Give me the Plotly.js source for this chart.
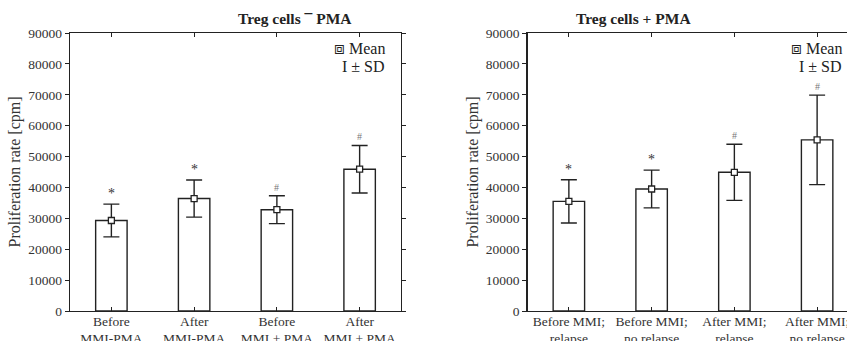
<!DOCTYPE html>
<html>
<head>
<meta charset="utf-8">
<script src="https://cdn.plot.ly/plotly-3.0.1.min.js"></script>
<style>
html,body{margin:0;padding:0;overflow:hidden;background:#fff;width:847px;height:341px;}
#chart{width:870px;height:341px;}
</style>
</head>
<body>
<div id="chart"></div>
<script>
// Panel A: Treg cells − PMA
const catsA = ["Before<br>MMI-PMA", "After<br>MMI-PMA", "Before<br>MMI + PMA", "After<br>MMI + PMA"];
const meanA = [29300, 36400, 32800, 45900];
const sdA   = [5300, 6000, 4500, 7700];
const markA = ["*", "*", "#", "#"];

// Panel B: Treg cells + PMA
const catsB = ["Before MMI;<br>relapse", "Before MMI;<br>no relapse", "After MMI;<br>relapse", "After MMI;<br>no relapse"];
const meanB = [35500, 39500, 44900, 55400];
const sdB   = [7000, 6100, 9100, 14500];
const markB = ["*", "*", "#", "#"];

const W = 870;
const PT = 33, PB = 311, PH = PB - PT;
const serif = "Liberation Serif, Times New Roman, serif";
const ink = "#222";

function panel(cats, mean, sd, xa, ya) {
  const x = cats.map((c, i) => i);
  return [
    {type: "bar", x: x, y: mean, xaxis: xa, yaxis: ya, width: 0.38,
     marker: {color: "#fff", line: {color: ink, width: 1.4}}, hoverinfo: "skip"},
    {type: "scatter", mode: "markers", x: x, y: mean, xaxis: xa, yaxis: ya,
     marker: {symbol: "square", size: 6, color: "#fff", line: {color: ink, width: 1.3}},
     error_y: {type: "data", array: sd, visible: true, color: ink, thickness: 1.4, width: 8}}
  ];
}

const data = [].concat(panel(catsA, meanA, sdA, "x", "y"), panel(catsB, meanB, sdB, "x2", "y2"));

function xaxis(cats, dom) {
  return {domain: dom, range: [-0.5, 3.5], tickmode: "array", tickvals: cats.map((c, i) => i), ticktext: cats,
    ticks: "inside", ticklen: 4, tickcolor: ink, showline: true, linecolor: ink, linewidth: 1.3, mirror: "ticks",
    ticklabelstandoff: -3,
    showgrid: false, zeroline: false, tickfont: {family: serif, size: 13.5, color: "#333"}, fixedrange: true};
}
function yaxis(anchor) {
  return {anchor: anchor, range: [0, 90000], dtick: 10000, tickformat: "d",
    ticks: "outside", ticklen: 4, tickcolor: ink, showline: true, linecolor: ink, linewidth: 1.3, mirror: "ticks",
    showgrid: false, zeroline: false, tickfont: {family: serif, size: 13.5, color: "#333"},
    title: {text: "Proliferation rate [cpm]", font: {family: serif, size: 16, color: "#333"}, standoff: 3}};
}

const domA = [70 / W, 401 / W];
const domB = [527.5 / W, 858.5 / W];

const annotations = [];
function marks(m, mean, sd, xr, yr) {
  m.forEach((t, i) => annotations.push({xref: xr, yref: yr, x: i, y: mean[i] + sd[i], text: t,
    showarrow: false, yanchor: "bottom", yshift: 1,
    font: {family: serif, size: t === "*" ? 14 : 10, color: t === "*" ? "#333" : "#777"}}));
}
marks(markA, meanA, sdA, "x", "y");
marks(markB, meanB, sdB, "x2", "y2");

function legend(xr) {
  annotations.push({xref: "paper", yref: "paper", x: xr, y: (PB - 48) / PH, xanchor: "right", yanchor: "middle",
    text: "<span style='font-family:DejaVu Sans;font-size:17px'>⧈</span> Mean", showarrow: false,
    font: {family: serif, size: 16, color: "#222"}});
  annotations.push({xref: "paper", yref: "paper", x: xr, y: (PB - 66) / PH, xanchor: "right", yanchor: "middle",
    text: "I ± SD", showarrow: false, font: {family: serif, size: 16, color: "#222"}});
}
legend(387 / W);
legend(844 / W);

annotations.push({xref: "paper", yref: "paper", x: (domA[0] + domA[1]) / 2, y: 1, yanchor: "bottom", yshift: 4,
  text: "<b>Treg cells ¯ PMA</b>", showarrow: false, font: {family: serif, size: 15.5, color: "#222"}});
annotations.push({xref: "paper", yref: "paper", x: (domB[0] + domB[1]) / 2, y: 1, yanchor: "bottom", yshift: 4,
  text: "<b>Treg cells + PMA</b>", showarrow: false, font: {family: serif, size: 15.5, color: "#222"}});

const layout = {
  width: W, height: 341, margin: {l: 0, r: 0, t: PT, b: 341 - PB},
  paper_bgcolor: "#fff", plot_bgcolor: "#fff", showlegend: false,
  xaxis: xaxis(catsA, domA), yaxis: yaxis("x"),
  xaxis2: xaxis(catsB, domB), yaxis2: yaxis("x2"),
  annotations: annotations, font: {family: serif}
};
Plotly.newPlot("chart", data, layout, {staticPlot: true});
</script>
</body>
</html>
